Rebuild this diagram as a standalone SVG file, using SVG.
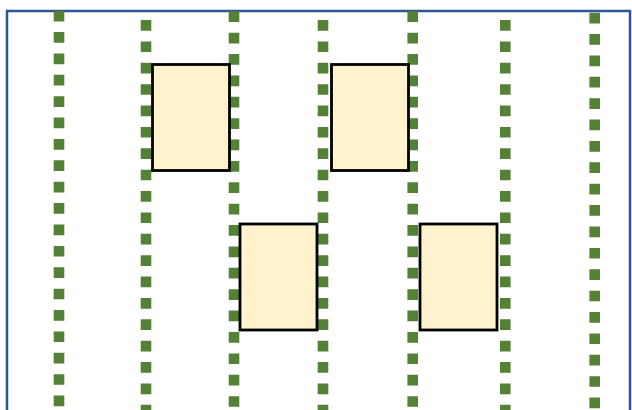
<svg xmlns="http://www.w3.org/2000/svg" width="632" height="410" viewBox="0 0 632 410">
<style>
.frame{fill:none;stroke:#2F5597;stroke-width:2.5}
.dots{stroke:#538135;stroke-width:10.6;stroke-dasharray:10.7 10.68;fill:none}
.box{fill:#FFF2CC;stroke:#000;stroke-width:2.8}
</style>
<rect class="frame" x="7" y="11" width="623" height="420"/>
<g id="connectors">
<line class="dots" x1="59" y1="10.7" x2="59" y2="420"/>
<line class="dots" x1="146" y1="20" x2="146" y2="420"/>
<line class="dots" x1="234" y1="11.3" x2="234" y2="420"/>
<line class="dots" x1="323" y1="20" x2="323" y2="420"/>
<line class="dots" x1="412.7" y1="11.3" x2="412.7" y2="420"/>
<line class="dots" x1="505.3" y1="20" x2="505.3" y2="420"/>
<line class="dots" x1="594.7" y1="12.7" x2="594.7" y2="420"/>
</g>
<g id="box1"><rect class="box" x="152.5" y="64.5" width="77" height="106"/></g>
<g id="box2"><rect class="box" x="331.5" y="64.5" width="77" height="106"/></g>
<g id="box3"><rect class="box" x="240" y="224" width="77" height="106"/></g>
<g id="box4"><rect class="box" x="420" y="224" width="77" height="106"/></g>
</svg>
